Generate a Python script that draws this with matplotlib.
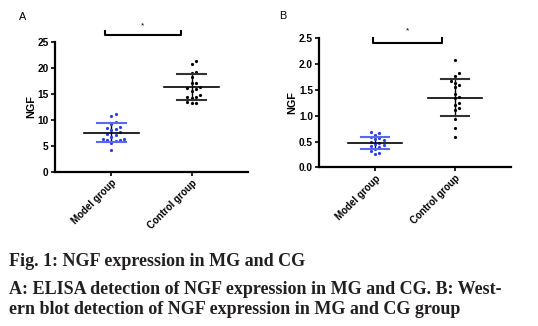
import numpy as np
import matplotlib
matplotlib.use("Agg")
import matplotlib.pyplot as plt

categories = ["Model group", "Control group"]

# Panel A: ELISA
a_model = [11.1, 10.8, 9.6, 9.3, 8.7, 8.4, 8.2, 8.0, 7.6, 7.3, 7.0, 6.8, 6.4, 6.3, 6.2, 6.1, 5.9, 5.6, 4.2]
a_control = [21.3, 20.8, 19.3, 19.1, 18.2, 17.2, 17.1, 16.3, 16.1, 15.9, 15.5, 14.8, 14.5, 14.4, 14.2, 13.5, 13.3, 13.2]
a_mean = [7.5, 16.4]
a_sd = [1.85, 2.5]
a_ticks = [0, 5, 10, 15, 20, 25]
a_ticklabels = ["0", "5", "10", "15", "20", "25"]

# Panel B: Western blot
b_model = [0.69, 0.66, 0.63, 0.59, 0.57, 0.54, 0.53, 0.50, 0.48, 0.45, 0.43, 0.41, 0.39, 0.35, 0.32, 0.28, 0.26]
b_control = [2.07, 1.82, 1.77, 1.68, 1.64, 1.60, 1.55, 1.43, 1.37, 1.34, 1.24, 1.21, 1.14, 1.11, 0.93, 0.76, 0.58]
b_mean = [0.47, 1.35]
b_sd = [0.11, 0.365]
b_ticks = [0.0, 0.5, 1.0, 1.5, 2.0, 2.5]
b_ticklabels = ["0.0", "0.5", "1.0", "1.5", "2.0", "2.5"]

caption = ["Fig. 1: NGF expression in MG and CG",
           "A: ELISA detection of NGF expression in MG and CG. B: West-",
           "ern blot detection of NGF expression in MG and CG group"]

BLUE = "#2b3ff0"
BLUE_L = "#5868f2"
SANS = "Liberation Sans"

fig = plt.figure(figsize=(5.38, 3.26), dpi=100)


def swarm_offsets(ax, xc, vals, spacing_px=4.3):
    # deterministic beeswarm offsets in data units based on the axis scales
    fig.canvas.draw()
    trans = ax.transData
    pts = [trans.transform((xc, v))[1] for v in vals]
    order = np.argsort(pts)
    placed = []
    offs = [0.0] * len(vals)
    cand = [0]
    for k in range(1, 8):
        cand += [k, -k]
    for i in order:
        y = pts[i]
        for c in cand:
            x = c * spacing_px
            ok = all((x - px) ** 2 + (y - py) ** 2 >= spacing_px ** 2 for px, py in placed)
            if ok:
                placed.append((x, y))
                offs[i] = x
                break
    x0 = trans.transform((xc, 0))[0]
    res = []
    for o in offs:
        res.append(trans.inverted().transform((x0 + o, 0))[0] - xc)
    return np.array(res)


def panel(rect, model, control, mean, sd, ticks, ticklabels, ylim, bracket, colors_sd):
    ax = fig.add_axes(rect)
    ax.set_xlim(-0.7, 1.7)
    ax.set_ylim(*ylim)
    for s in ["top", "right"]:
        ax.spines[s].set_visible(False)
    for s in ["left", "bottom"]:
        ax.spines[s].set_linewidth(1.6)
    ax.set_yticks(ticks)
    ax.set_yticklabels(ticklabels, fontfamily=SANS, fontweight="bold", fontsize=7.3)
    ax.set_xticks([0, 1])
    ax.set_xticklabels(categories, rotation=45, ha="right", rotation_mode="anchor",
                       fontfamily=SANS, fontweight="bold", fontsize=7)
    ax.tick_params(axis="both", length=3, width=1.2, pad=1.5)
    ax.set_ylabel("NGF", fontfamily=SANS, fontweight="bold", fontsize=7.8, labelpad=1)

    groups = [model, control]
    pcolors = [BLUE, "black"]
    for i, vals in enumerate(groups):
        offs = swarm_offsets(ax, i, vals)
        ax.plot(i + offs, vals, "o", ms=2.3, color=pcolors[i], mec="none", zorder=3)
        m, s = mean[i], sd[i]
        ax.plot([i - 0.34, i + 0.34], [m, m], color="black", lw=1.2, zorder=4)
        ax.plot([i - 0.18, i + 0.18], [m + s, m + s], color=colors_sd[i], lw=1.5, zorder=4)
        ax.plot([i - 0.18, i + 0.18], [m - s, m - s], color=colors_sd[i], lw=1.5, zorder=4)
        ax.plot([i, i], [m - s, m + s], color="black", lw=1.0, zorder=2)

    x0, x1, yb, yt, ys = bracket
    ax.plot([x0, x0, x1, x1], [yt, yb, yb, yt], color="black", lw=1.5, clip_on=False)
    ax.text((x0 + x1) / 2, ys, "*", ha="center", va="center", fontsize=6,
            fontfamily=SANS, clip_on=False)
    return ax


axA = panel([0.1022, 0.4733, 0.3587, 0.397], a_model, a_control, a_mean, a_sd,
            a_ticks, a_ticklabels, (0, 25),
            (-0.078, 0.867, 26.4, 27.2, 28.2), [BLUE_L, "#333333"])
axB = panel([0.5935, 0.4868, 0.3558, 0.3957], b_model, b_control, b_mean, b_sd,
            b_ticks, b_ticklabels, (0, 2.5),
            (-0.023, 0.835, 2.415, 2.50, 2.64), [BLUE_L, "#333333"])

fig.text(22.7 / 538, 1 - 16.7 / 326, "A", fontfamily=SANS, fontsize=7.8, ha="center", va="center")
fig.text(283 / 538, 1 - 16.0 / 326, "B", fontfamily=SANS, fontsize=7.8, ha="center", va="center")

for t, y in zip(caption, [261.5, 290.0, 309.0]):
    fig.text(9 / 538, 1 - y / 326, t, fontfamily="Liberation Serif", fontweight="bold",
             fontsize=13.0, ha="left", va="center", color="#231f20")

fig.savefig("out.png", dpi=100)
